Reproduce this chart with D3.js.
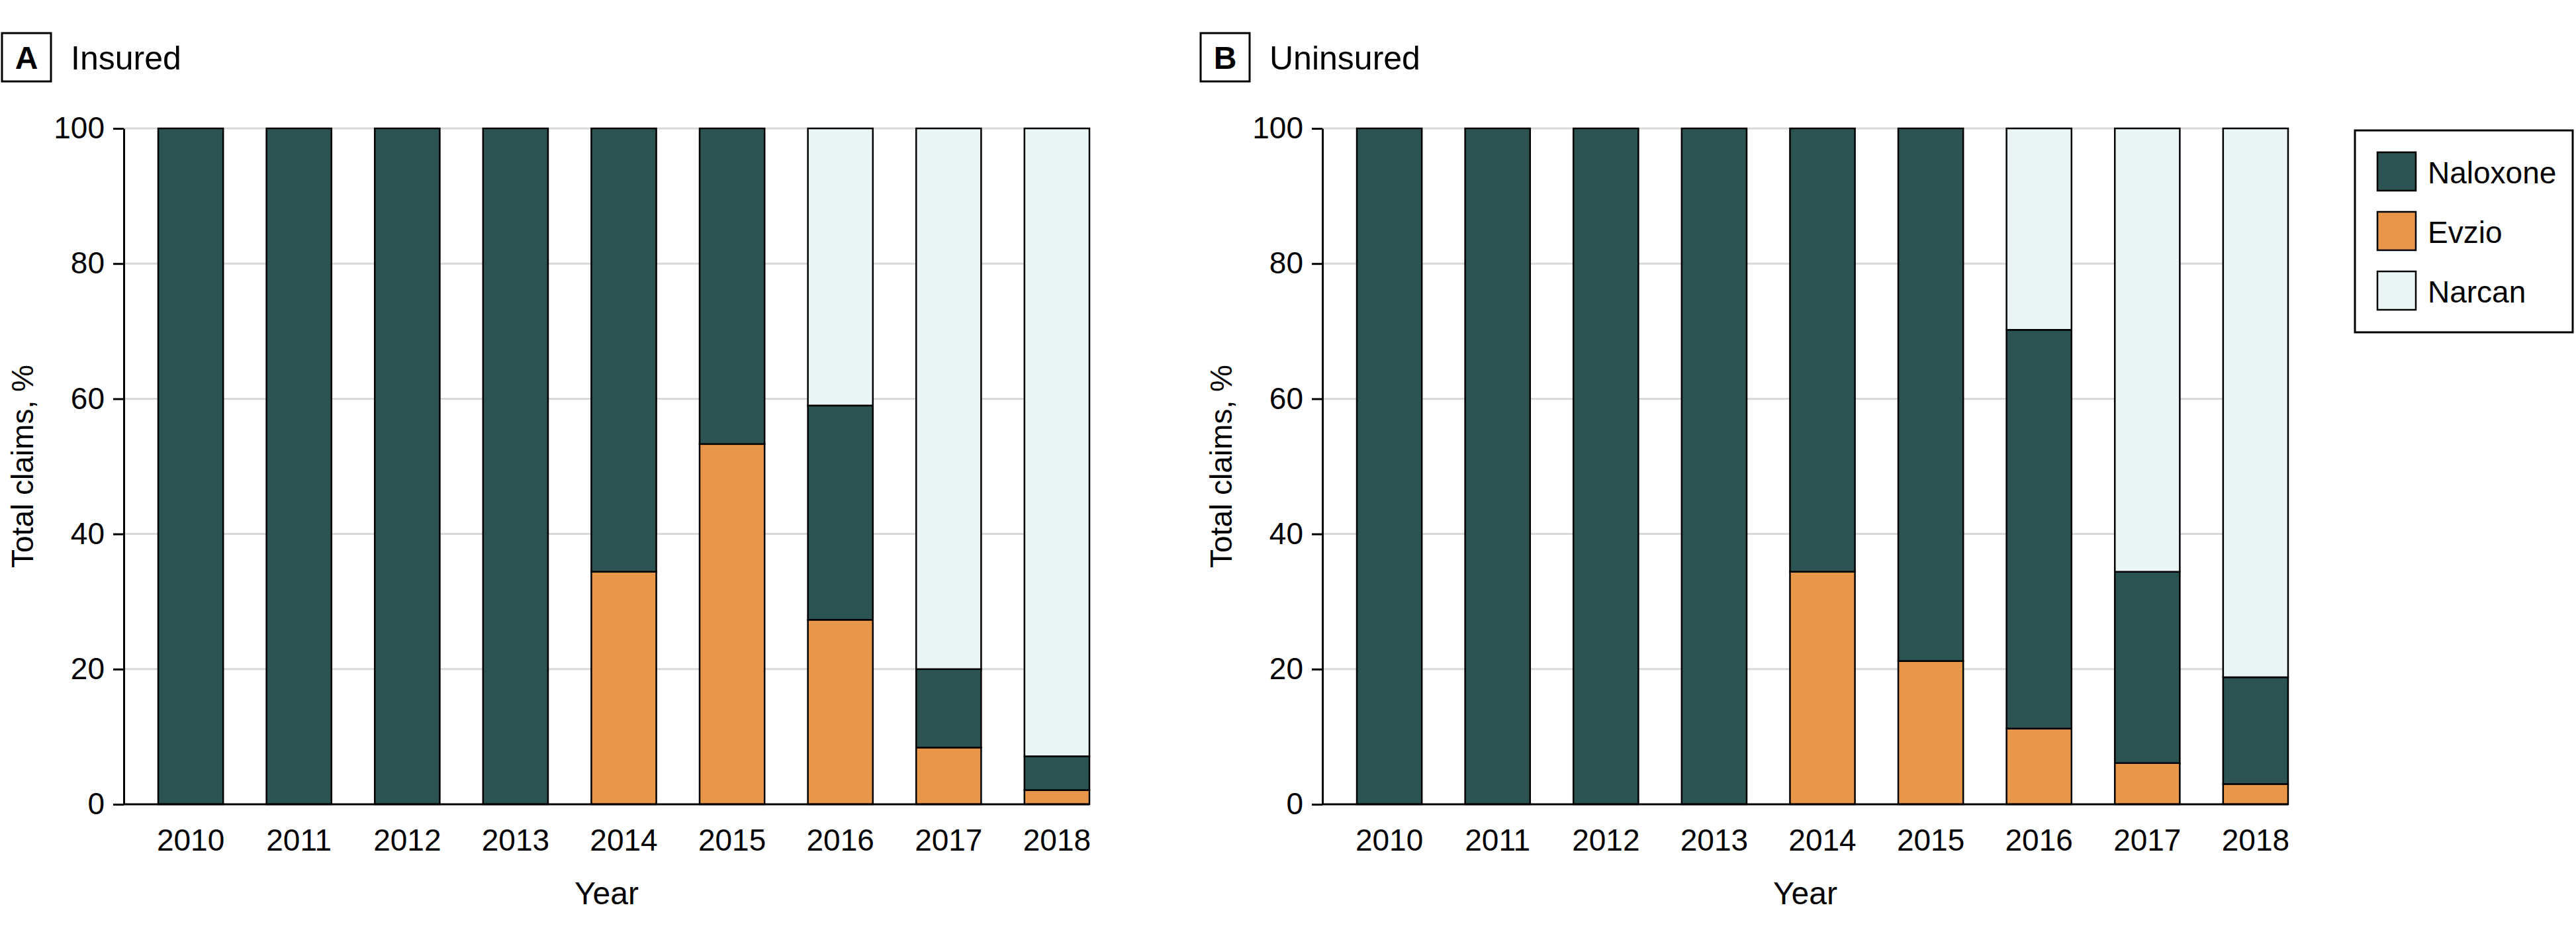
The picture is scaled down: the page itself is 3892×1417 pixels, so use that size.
<!DOCTYPE html>
<html>
<head>
<meta charset="utf-8">
<script src="https://cdn.jsdelivr.net/npm/d3@7"></script>
<style>
  html, body { margin: 0; padding: 0; background: #fff; }
  svg { display: block; }
  text { font-family: "Liberation Sans", Arial, sans-serif; fill: #000; }
</style>
</head>
<body>
<svg id="chart" width="3892" height="1417"></svg>
<script>
// ---------- data ----------
const years = ["2010", "2011", "2012", "2013", "2014", "2015", "2016", "2017", "2018"];
const seriesNames = ["Naloxone", "Evzio", "Narcan"];
const seriesColors = ["#2b5352", "#e8974a", "#eaf4f4"];
const yTicks = [0, 20, 40, 60, 80, 100];

// Panel A: Insured (percent of total claims)
const insuredEvzio    = [0, 0, 0, 0, 34.4, 53.3, 27.3, 8.4, 2.1];
const insuredNaloxone = [100, 100, 100, 100, 65.6, 46.7, 31.7, 11.6, 5.0];
const insuredNarcan   = [0, 0, 0, 0, 0, 0, 41.0, 80.0, 92.9];

// Panel B: Uninsured (percent of total claims)
const uninsuredEvzio    = [0, 0, 0, 0, 34.4, 21.2, 11.2, 6.1, 3.0];
const uninsuredNaloxone = [100, 100, 100, 100, 65.6, 78.8, 59.0, 28.3, 15.8];
const uninsuredNarcan   = [0, 0, 0, 0, 0, 0, 29.8, 65.6, 81.2];

const panels = [
  { letter: "A", title: "Insured", axisX: 187, evzio: insuredEvzio, naloxone: insuredNaloxone, narcan: insuredNarcan },
  { letter: "B", title: "Uninsured", axisX: 1998, evzio: uninsuredEvzio, naloxone: uninsuredNaloxone, narcan: uninsuredNarcan }
];

// ---------- layout ----------
const svg = d3.select("#chart");
const yTop = 194, yBottom = 1215;
const bandRangeWidth = 1511;
const fs = 46;

const y = d3.scaleLinear().domain([0, 100]).range([yBottom, yTop]);

panels.forEach(p => {
  const g = svg.append("g");
  const x = d3.scaleBand().domain(years)
    .range([p.axisX, p.axisX + bandRangeWidth])
    .paddingInner(0.4).paddingOuter(0.318);
  const plotRight = x(years[years.length - 1]) + x.bandwidth();

  // gridlines
  g.append("g").selectAll("line").data(yTicks.filter(t => t > 0)).join("line")
    .attr("x1", p.axisX).attr("x2", plotRight)
    .attr("y1", d => y(d)).attr("y2", d => y(d))
    .attr("stroke", "#d9d9d9").attr("stroke-width", 3);

  // stacked bars: Evzio (bottom), Naloxone, Narcan (top)
  const rows = years.map((yr, i) => ({ year: yr, Evzio: p.evzio[i], Naloxone: p.naloxone[i], Narcan: p.narcan[i] }));
  const stack = d3.stack().keys(["Evzio", "Naloxone", "Narcan"]);
  const stacked = stack(rows);
  const colorOf = k => seriesColors[seriesNames.indexOf(k)];

  stacked.forEach(layer => {
    g.append("g").selectAll("rect").data(layer.filter(d => d[1] - d[0] > 0)).join("rect")
      .attr("x", d => x(d.data.year))
      .attr("width", x.bandwidth())
      .attr("y", d => y(d[1]))
      .attr("height", d => y(d[0]) - y(d[1]))
      .attr("fill", colorOf(layer.key))
      .attr("stroke", "#000").attr("stroke-width", 2.5);
  });

  // y axis
  const yAxis = d3.axisLeft(y).tickValues(yTicks).tickSize(16).tickSizeOuter(0).tickPadding(13);
  const ya = g.append("g").attr("transform", `translate(${p.axisX},0)`).call(yAxis);
  ya.select(".domain").attr("stroke", "#000").attr("stroke-width", 3);
  ya.selectAll(".tick line").attr("stroke", "#000").attr("stroke-width", 3);
  ya.selectAll(".tick text").attr("font-size", fs).attr("font-family", "Liberation Sans, Arial, sans-serif").attr("fill", "#000");

  // baseline
  g.append("line").attr("x1", p.axisX).attr("x2", plotRight)
    .attr("y1", y(0)).attr("y2", y(0))
    .attr("stroke", "#000").attr("stroke-width", 3);

  // x axis labels
  const xAxis = d3.axisBottom(x).tickSize(0).tickPadding(37);
  const xa = g.append("g").attr("transform", `translate(0,${yBottom})`).call(xAxis);
  xa.select(".domain").remove();
  xa.selectAll(".tick text").attr("font-size", fs).attr("font-family", "Liberation Sans, Arial, sans-serif").attr("fill", "#000");

  // axis titles
  g.append("text").attr("x", (p.axisX + plotRight) / 2).attr("y", 1366)
    .attr("text-anchor", "middle").attr("font-size", 48).text("Year");
  g.append("text")
    .attr("transform", `translate(${p.axisX - 137},${(yTop + yBottom) / 2}) rotate(-90)`)
    .attr("text-anchor", "middle").attr("font-size", fs).text("Total claims, %");

  // panel label box + title
  const bx = p.axisX - 184;
  g.append("rect").attr("x", bx).attr("y", 50).attr("width", 74).attr("height", 73)
    .attr("fill", "#fff").attr("stroke", "#000").attr("stroke-width", 3);
  g.append("text").attr("x", bx + 37).attr("y", 104).attr("text-anchor", "middle")
    .attr("font-size", 48).attr("font-weight", "bold").text(p.letter);
  g.append("text").attr("x", bx + 104).attr("y", 105).attr("font-size", 50).text(p.title);
});

// ---------- legend ----------
const lg = svg.append("g");
lg.append("rect").attr("x", 3558).attr("y", 197).attr("width", 329).attr("height", 305)
  .attr("fill", "#fff").attr("stroke", "#000").attr("stroke-width", 3);
seriesNames.forEach((name, i) => {
  const yy = 230 + i * 90;
  lg.append("rect").attr("x", 3592).attr("y", yy).attr("width", 58).attr("height", 58)
    .attr("fill", seriesColors[i]).attr("stroke", "#000").attr("stroke-width", 2.5);
  lg.append("text").attr("x", 3668).attr("y", yy + 47).attr("font-size", 46).text(name);
});
</script>
</body>
</html>
